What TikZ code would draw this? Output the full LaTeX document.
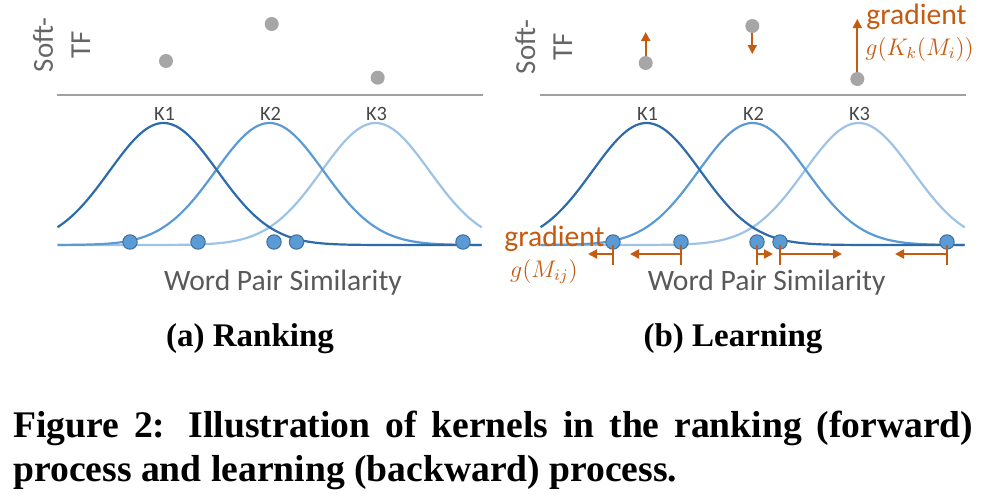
\documentclass[tikz,border=0pt]{standalone}
\usepackage{fontspec}
\setmainfont{Liberation Serif}
\newfontfamily\carl{Carlito}
\usetikzlibrary{arrows.meta}
\definecolor{kone}{HTML}{2E6BAA}
\definecolor{ktwo}{HTML}{5B9BD5}
\definecolor{kthree}{HTML}{9DC3E6}
\definecolor{gorange}{HTML}{C55A11}
\definecolor{txtgray}{HTML}{595959}
\definecolor{softgray}{HTML}{666666}
\definecolor{dotgray}{HTML}{A6A6A6}
\definecolor{dotedge}{HTML}{41719C}
\definecolor{axisgray}{HTML}{A0A0A0}
\begin{document}
\begin{tikzpicture}[x=0.5pt,y=-0.5pt,
  axisline/.style={draw=axisgray,line width=1pt},
  kcurve/.style={line width=1.1pt,line join=round},
  gdot/.style={circle,fill=dotgray,inner sep=0pt,minimum size=7pt},
  bdot/.style={circle,fill=ktwo,draw=dotedge,line width=0.5pt,inner sep=0pt,minimum size=7.2pt},
  softlab/.style={rotate=90,anchor=base,inner sep=0pt,text=softgray,font=\carl\fontsize{14.5}{17}\selectfont},
  klab/.style={anchor=base,inner sep=0pt,text=txtgray!80!black,font=\carl\fontsize{10.2}{12}\selectfont},
  xlab/.style={anchor=base,inner sep=0pt,text=txtgray,font=\carl\fontsize{14.8}{18}\selectfont},
  sublab/.style={anchor=base,inner sep=0pt,font=\bfseries\fontsize{16.5}{20}\selectfont},
  caplab/.style={anchor=base west,inner sep=0pt,font=\bfseries\fontsize{18.8}{22}\selectfont},
  gradtxt/.style={inner sep=0pt,text=gorange,font=\carl\fontsize{14.8}{18}\selectfont},
  gradmath/.style={inner sep=0pt,text=gorange,font=\fontsize{11.8}{14}\selectfont},
  oarr/.style={draw=gorange,line width=1pt,-{Triangle[length=4.5pt,width=4.5pt]}},
  otick/.style={draw=gorange,line width=1pt}
]
\useasboundingbox (0,0) rectangle (1007,498);

% curves and axes for both panels
\foreach \o in {0,483}{
  \draw[axisline] (57+\o,95) -- (483+\o,95);
  \draw[kcurve,kthree] plot[domain=57.5+\o:481.7+\o,samples=140] (\x,{245-122*exp(-0.5*((\x-375.5-\o)/54)^2)});
  \draw[kcurve,ktwo] plot[domain=57.5+\o:481.7+\o,samples=140] (\x,{245-122*exp(-0.5*((\x-269.5-\o)/54)^2)});
  \draw[kcurve,kone] plot[domain=57.5+\o:481.7+\o,samples=140] (\x,{245-122*exp(-0.5*((\x-163.5-\o)/54)^2)});
}

% left panel
\node[softlab] (softL) at (53,45) {Soft-};
\node[softlab] (tfL) at (90,45) {TF};
\node[klab] (k1L) at (164.5,120) {K1};
\node[klab] (k2L) at (270.5,120) {K2};
\node[klab] (k3L) at (376.5,120) {K3};
\node[gdot] (gL1) at (166,61) {};
\node[gdot] (gL2) at (271.7,24) {};
\node[gdot] (gL3) at (377.7,77.7) {};
\node[bdot] (bL1) at (130,242) {};
\node[bdot] (bL2) at (198,242) {};
\node[bdot] (bL3) at (274,242) {};
\node[bdot] (bL4) at (296.5,242) {};
\node[bdot] (bL5) at (463,242) {};
\node[xlab] (xL) at (283,290) {Word Pair Similarity};
\node[sublab] (subA) at (250,346) {(a) Ranking};

% right panel
\node[softlab] (softR) at (535,47) {Soft-};
\node[softlab] (tfR) at (572,47) {TF};
\node[klab] (k1R) at (647.5,120) {K1};
\node[klab] (k2R) at (753.5,120) {K2};
\node[klab] (k3R) at (859.5,120) {K3};
\node[gdot] (gR1) at (645.7,63) {};
\node[gdot] (gR2) at (752.3,26) {};
\node[gdot] (gR3) at (857.3,79) {};
\node[bdot] (bR1) at (613,242) {};
\node[bdot] (bR2) at (681,242) {};
\node[bdot] (bR3) at (757,242) {};
\node[bdot] (bR4) at (780,242) {};
\node[bdot] (bR5) at (947,242) {};
\node[xlab] (xR) at (766.7,290) {Word Pair Similarity};
\node[sublab] (subB) at (733,346) {(b) Learning};

% gradient labels
\node[gradtxt,anchor=base west] (gtop) at (866,25) {gradient};
\node[gradmath,anchor=base west] (gtopm) at (865,55) {$g(K_k(M_i))$};
\node[gradtxt,anchor=base west] (gbot) at (504,246) {gradient};
\node[gradmath,anchor=base] (gbotm) at (544,277) {$g(M_{ij})$};

% vertical gradient arrows
\coordinate (u1) at (645.7,32);
\coordinate (u2) at (752.3,54);
\coordinate (u3) at (857.3,19);
\draw[oarr] (gR1.north) -- (u1);
\draw[oarr] (gR2.south) -- (u2);
\draw[oarr] (gR3.north) -- (u3);

% horizontal gradient arrows
\coordinate (ttop) at (0,245);
\coordinate (tbot) at (0,265);
\foreach \n/\e in {1/588,2/630,3/773,4/842,5/895}{
  \coordinate (h\n) at (\e,254);
  \draw[otick] (bR\n |- ttop) -- (bR\n |- tbot);
  \draw[oarr] (bR\n |- h\n) -- (h\n);
}

% caption
\node[caplab] (cap1) at (13,437) {\makebox[480pt][s]{Figure 2: Illustration of kernels in the ranking (forward)}};
\node[caplab] (cap2) at (13,481) {process and learning (backward) process.};
\end{tikzpicture}
\end{document}
